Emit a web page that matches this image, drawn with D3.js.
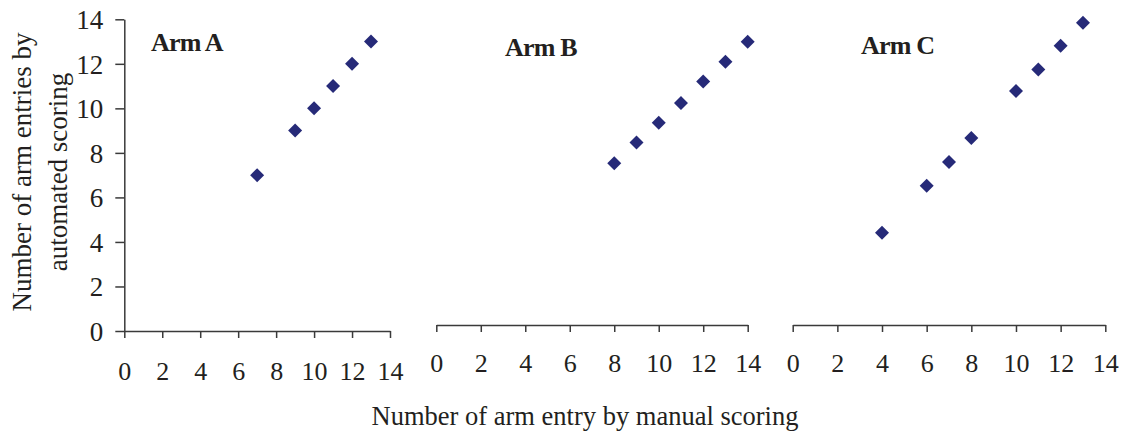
<!DOCTYPE html>
<html>
<head>
<meta charset="utf-8">
<script src="https://cdn.jsdelivr.net/npm/d3@7"></script>
<style>
  body { margin: 0; background: #fff; }
  svg { display: block; }
  text { font-family: 'Liberation Serif', 'Times New Roman', serif; fill: #231f20; }
</style>
</head>
<body>
<svg id="chart"></svg>
<script>
// data
const armAManual = [7, 9, 10, 11, 12, 13]
const armAAuto = [7, 9, 10, 11, 12, 13]

const armBManual = [8, 9, 10, 11, 12, 13, 14]
const armBAuto = [7.53, 8.47, 9.35, 10.24, 11.21, 12.09, 12.99]

const armCManual = [4, 6, 7, 8, 10, 11, 12, 13]
const armCAuto = [4.41, 6.52, 7.59, 8.67, 10.78, 11.75, 12.81, 13.84]

const tickValues = [0, 2, 4, 6, 8, 10, 12, 14]
const panelTitles = ['Arm A', 'Arm B', 'Arm C']

const width = 1121
const height = 432

const svg = d3.select('#chart').attr('width', width).attr('height', height)

// shared y scale
const y = d3.scaleLinear().domain([0, 14]).range([331, 19.3])

// panels: x range, axis position, title position
const panels = [
  { title: panelTitles[0], xs: armAManual, ys: armAAuto, range: [124.3, 390], axisY: 331, labelY: 49, showY: true, tx: 151, ty: 51 },
  { title: panelTitles[1], xs: armBManual, ys: armBAuto, range: [436.3, 747.7], axisY: 325, labelY: 47, showY: false, tx: 505, ty: 56 },
  { title: panelTitles[2], xs: armCManual, ys: armCAuto, range: [792.7, 1105.3], axisY: 325, labelY: 47, showY: false, tx: 861, ty: 54 },
]

const diamond = d3.symbol().type(d3.symbolSquare).size(98)

panels.forEach((p) => {
  const x = d3.scaleLinear().domain([0, 14]).range(p.range)

  // x axis
  const gx = svg
    .append('g')
    .attr('transform', `translate(0,${p.axisY})`)
    .call(d3.axisBottom(x).tickValues(tickValues).tickSizeInner(7).tickSizeOuter(0))
  gx.select('.domain').attr('stroke', '#3a3a3a').attr('stroke-width', 1.5)
  gx.selectAll('.tick line').attr('stroke', '#3a3a3a').attr('stroke-width', 1.5)
  gx.selectAll('.tick text')
    .attr('y', p.labelY)
    .attr('dy', 0)
    .attr('font-size', 26)
    .attr('fill', '#231f20')

  // y axis (only first panel)
  if (p.showY) {
    const gy = svg
      .append('g')
      .attr('transform', `translate(${p.range[0]},0)`)
      .call(d3.axisLeft(y).tickValues(tickValues).tickSizeInner(9).tickSizeOuter(0).tickPadding(12))
    gy.select('.domain').attr('stroke', '#3a3a3a').attr('stroke-width', 1.5)
    gy.selectAll('.tick line').attr('stroke', '#3a3a3a').attr('stroke-width', 1.5)
    gy.selectAll('.tick text')
      .attr('dy', '0.34em')
      .attr('font-size', 27)
      .attr('fill', '#231f20')
  }

  // points
  svg
    .append('g')
    .selectAll('path')
    .data(d3.zip(p.xs, p.ys))
    .join('path')
    .attr('d', diamond)
    .attr('transform', (d) => `translate(${x(d[0])},${y(d[1])}) rotate(45)`)
    .attr('fill', '#262a78')

  // panel title
  svg
    .append('text')
    .attr('x', p.tx)
    .attr('y', p.ty)
    .attr('font-size', 26)
    .attr('font-weight', 'bold')
    .attr('letter-spacing', -0.8)
    .text(p.title)
})

// y axis title (two lines)
const yTitle = svg.append('text').attr('transform', 'translate(40,172) rotate(-90)').attr('text-anchor', 'middle').attr('font-size', 27)
yTitle.append('tspan').attr('x', 0).attr('y', -9).text('Number of arm entries by')
yTitle.append('tspan').attr('x', 0).attr('y', 27).text('automated scoring')

// x axis title
svg
  .append('text')
  .attr('x', 585)
  .attr('y', 425)
  .attr('text-anchor', 'middle')
  .attr('font-size', 26.5)
  .text('Number of arm entry by manual scoring')
</script>
</body>
</html>
